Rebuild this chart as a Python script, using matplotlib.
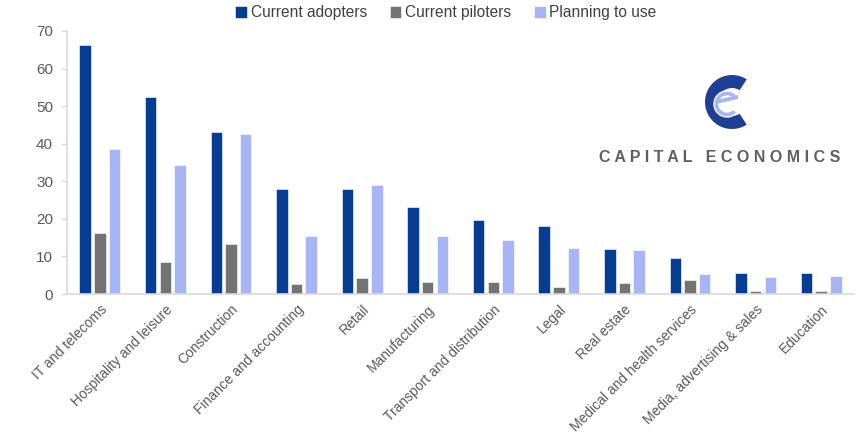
import matplotlib
matplotlib.use("Agg")
import matplotlib.pyplot as plt
import numpy as np
from matplotlib.patches import Wedge, Polygon

plt.rcParams['font.family'] = ['Liberation Sans', 'DejaVu Sans']

categories = ["IT and telecoms", "Hospitality and leisure", "Construction",
              "Finance and accounting", "Retail", "Manufacturing",
              "Transport and distribution", "Legal", "Real estate",
              "Medical and health services", "Media, advertising & sales", "Education"]
adopters = [66.3, 52.4, 43.1, 27.9, 27.9, 23.2, 19.7, 18.0, 12.0, 9.5, 5.6, 5.6]
pilots = [16.3, 8.6, 13.2, 2.6, 4.2, 3.3, 3.2, 1.9, 3.0, 3.8, 0.8, 0.8]
planning = [38.7, 34.3, 42.7, 15.5, 29.0, 15.4, 14.5, 12.2, 11.8, 5.3, 4.6, 4.7]
series_names = ["Current adopters", "Current piloters", "Planning to use"]
yticks = [0, 10, 20, 30, 40, 50, 60, 70]

colors = ["#073C93", "#737373", "#A7B5F5"]
W, H = 856, 434
fig = plt.figure(figsize=(W / 100, H / 100), dpi=100)
ax = fig.add_axes([67 / W, 1 - 294 / H, (854 - 67) / W, (294 - 31) / H])

x = np.arange(len(categories))
bw = 0.175
off = 0.224
for i, (vals, name) in enumerate(zip([adopters, pilots, planning], series_names)):
    ax.bar(x + (i - 1) * off, vals, bw, color=colors[i], label=name,
           edgecolor="white", linewidth=0.4, zorder=2)

ax.set_xlim(-0.5, len(categories) - 0.5)
ax.set_ylim(0, 70)
ax.set_yticks(yticks)
ax.set_yticklabels([str(v) for v in yticks], fontsize=11, color="#595959")
ax.set_xticks(x)
ax.set_xticklabels(categories, rotation=45, ha="right", rotation_mode="anchor",
                   fontsize=10, color="#595959")
ax.tick_params(axis="x", length=0, pad=6)
ax.tick_params(axis="y", length=4, color="#D9D9D9", width=1, pad=6)
for s in ["top", "right"]:
    ax.spines[s].set_visible(False)
for s in ["left", "bottom"]:
    ax.spines[s].set_color("#D9D9D9")
    ax.spines[s].set_linewidth(1.2)

leg = fig.legend(loc="center", bbox_to_anchor=(446 / W, 1 - 13 / H), ncol=3,
                 frameon=False, fontsize=11.2, handlelength=0.75, handleheight=0.75,
                 handletextpad=0.25, columnspacing=1.45)
for t in leg.get_texts():
    t.set_color("#404040")

# Logo (axes in pixel units, y up)
x0, x1, y0, y1 = 695, 765, 70, 135
lax = fig.add_axes([x0 / W, 1 - y1 / H, (x1 - x0) / W, (y1 - y0) / H])
lax.set_xlim(x0, x1)
lax.set_ylim(H - y1, H - y0)
lax.set_aspect("equal")
lax.axis("off")
lax.add_patch(Wedge((732, H - 102), 27, 57, 303, width=13, facecolor="#1F3F94",
                    edgecolor="none"))
lax.add_patch(Wedge((727, H - 104), 13, 25, 320, width=5, facecolor="#A7B5F5",
                    edgecolor="white", linewidth=1))
lax.add_patch(Polygon([(716, H - 104), (738, H - 99), (738, H - 95), (716, H - 100)],
                      closed=True, facecolor="#A7B5F5", edgecolor="none"))

fig.text(720 / W, 1 - 158 / H, "C A P I T A L   E C O N O M I C S", ha="center",
         va="center", fontsize=11.5, fontweight="bold", color="#606060")

fig.savefig("out.png", dpi=100)
